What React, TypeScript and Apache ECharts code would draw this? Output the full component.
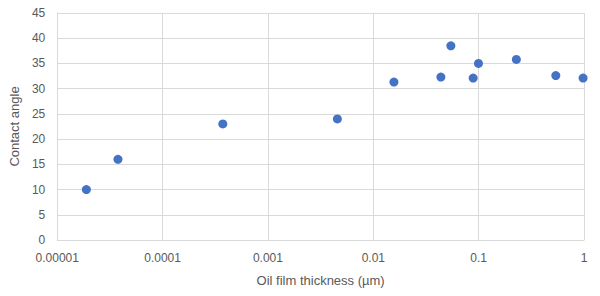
import React, { useEffect, useRef } from "react";
import * as echarts from "echarts";

const thickness = [0.0000189, 0.0000377, 0.000373, 0.00456, 0.0157, 0.0438, 0.0545, 0.0887, 0.0996, 0.228, 0.54, 0.98];
const contactAngle = [10, 16, 23, 24, 31.3, 32.3, 38.5, 32.1, 35, 35.8, 32.6, 32.1];
const xTickLabels = ["0.00001", "0.0001", "0.001", "0.01", "0.1", "1"];
const xTitle = "Oil film thickness (µm)";
const yTitle = "Contact angle";

export default function App() {
  const ref = useRef<HTMLDivElement>(null);
  useEffect(() => {
    if (!ref.current) return;
    const chart = echarts.init(ref.current, undefined, { renderer: "svg" });
    const font = "Liberation Sans";
    const grey = "#595959";
    const gridColor = "#d9d9d9";
    chart.setOption({
      animation: false,
      backgroundColor: "#ffffff",
      grid: { left: 56, right: 16, top: 13, bottom: 56 },
      xAxis: {
        type: "log",
        logBase: 10,
        min: 0.00001,
        max: 1,
        name: xTitle,
        nameLocation: "middle",
        nameGap: 34,
        nameTextStyle: { color: grey, fontFamily: font, fontSize: 13 },
        axisLine: { show: true, lineStyle: { color: gridColor } },
        axisTick: { show: false },
        splitLine: { show: true, lineStyle: { color: gridColor } },
        axisLabel: {
          color: grey,
          fontFamily: font,
          fontSize: 12,
          margin: 12,
          formatter: (v: number) => {
            const i = Math.round(Math.log10(v)) + 5;
            return xTickLabels[i] ?? "";
          },
        },
      },
      yAxis: {
        type: "value",
        min: 0,
        max: 45,
        interval: 5,
        name: yTitle,
        nameLocation: "middle",
        nameGap: 36,
        nameTextStyle: { color: grey, fontFamily: font, fontSize: 13 },
        axisLine: { show: true, lineStyle: { color: gridColor } },
        axisTick: { show: false },
        splitLine: { show: true, lineStyle: { color: gridColor } },
        axisLabel: { color: grey, fontFamily: font, fontSize: 12, margin: 12 },
      },
      series: [
        {
          type: "scatter",
          symbol: "circle",
          symbolSize: 9,
          itemStyle: { color: "#4472C4", opacity: 1 },
          data: thickness.map((x, i) => [x, contactAngle[i]]),
        },
      ],
    });
    return () => chart.dispose();
  }, []);
  return (
    <div
      ref={ref}
      style={{ position: "fixed", left: 0, top: 0, width: 600, height: 296 }}
    />
  );
}
